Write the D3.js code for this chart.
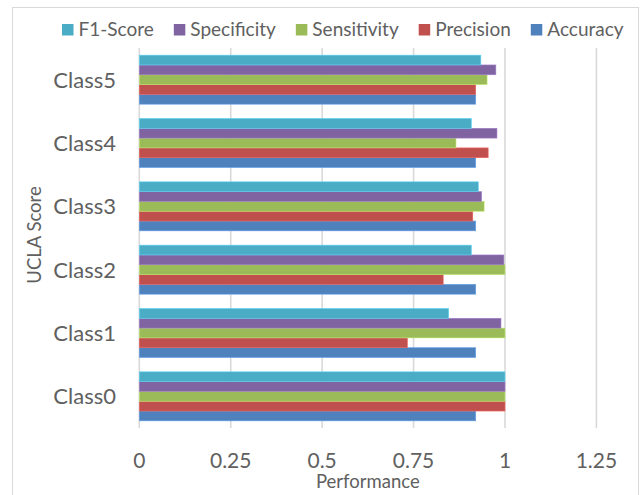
<!DOCTYPE html>
<html>
<head>
<meta charset="utf-8">
<script src="https://cdn.jsdelivr.net/npm/d3@7/dist/d3.min.js"></script>
<style>
  html, body { margin: 0; padding: 0; background: #fff; }
  svg { display: block; }
  text { font-family: Lato, "Open Sans", sans-serif; fill: #606060; }
</style>
</head>
<body>
<svg id="chart" width="641" height="495"></svg>
<script>
// Per-class performance metrics
const categories = ["Class0", "Class1", "Class2", "Class3", "Class4", "Class5"];
const accuracy    = [0.92, 0.92, 0.92, 0.92, 0.92, 0.92];
const precision   = [1.00, 0.733, 0.831, 0.912, 0.954, 0.920];
const sensitivity = [1.00, 1.00, 1.00, 0.943, 0.866, 0.951];
const specificity = [1.00, 0.989, 0.997, 0.936, 0.978, 0.975];
const f1Score     = [1.00, 0.846, 0.908, 0.927, 0.908, 0.934];
const xTicks = [0, 0.25, 0.5, 0.75, 1, 1.25];
const xTickLabels = ["0", "0.25", "0.5", "0.75", "1", "1.25"];

// Series listed bottom-to-top inside each group
const series = [
  { name: "Accuracy",    values: accuracy,    color: "#4F81BD" },
  { name: "Precision",   values: precision,   color: "#C0504D" },
  { name: "Sensitivity", values: sensitivity, color: "#9BBB59" },
  { name: "Specificity", values: specificity, color: "#8064A2" },
  { name: "F1-Score",    values: f1Score,     color: "#4BACC6" }
];

const svg = d3.select("#chart");

// Chart frame
svg.append("rect")
  .attr("x", 12.5).attr("y", 7.5)
  .attr("width", 626).attr("height", 500)
  .attr("fill", "#fff").attr("stroke", "#d9d9d9").attr("stroke-width", 1);

const plot = { left: 139.3, right: 596.4, top: 48, bottom: 428 };

const x = d3.scaleLinear().domain([0, 1.25]).range([plot.left, plot.right]);
const y = d3.scaleBand()
  .domain(categories.slice().reverse())
  .range([plot.top, plot.bottom])
  .paddingInner(0.226).paddingOuter(0.113);
const inner = d3.scaleBand()
  .domain(series.map(s => s.name).reverse())
  .range([0, y.bandwidth()]);

// Vertical gridlines
svg.append("g")
  .selectAll("line")
  .data(xTicks)
  .join("line")
  .attr("x1", d => x(d)).attr("x2", d => x(d))
  .attr("y1", plot.top).attr("y2", plot.bottom)
  .attr("stroke", "#d9d9d9").attr("stroke-width", 1.6);

// Bars
const groups = svg.append("g")
  .selectAll("g")
  .data(categories)
  .join("g")
  .attr("transform", d => `translate(0,${y(d)})`);

groups.selectAll("rect")
  .data((c, i) => series.map(s => ({ name: s.name, color: s.color, v: s.values[i] })))
  .join("rect")
  .attr("x", x(0))
  .attr("y", d => inner(d.name))
  .attr("width", d => x(d.v) - x(0))
  .attr("height", inner.bandwidth())
  .attr("fill", d => d.color)
  .attr("stroke", d => d3.color(d.color).brighter(0.6))
  .attr("stroke-width", 0.6);

// Category axis labels
svg.append("g")
  .selectAll("text")
  .data(categories)
  .join("text")
  .attr("x", 116)
  .attr("y", d => y(d) + y.bandwidth() / 2)
  .attr("dy", "0.36em")
  .attr("text-anchor", "end")
  .attr("font-size", 22)
  .text(d => d);

// Value axis labels
svg.append("g")
  .selectAll("text")
  .data(xTicks)
  .join("text")
  .attr("x", d => x(d))
  .attr("y", 467.5)
  .attr("text-anchor", "middle")
  .attr("font-size", 21)
  .text((d, i) => xTickLabels[i]);

// Axis titles
svg.append("text")
  .attr("x", (plot.left + plot.right) / 2)
  .attr("y", 488)
  .attr("text-anchor", "middle")
  .attr("font-size", 18.5)
  .text("Performance");

svg.append("text")
  .attr("transform", `translate(41,235) rotate(-90)`)
  .attr("text-anchor", "middle")
  .attr("font-size", 18.5)
  .text("UCLA Score");

// Legend
const legend = svg.append("g");
let lx = 62;
series.slice().reverse().forEach(s => {
  legend.append("rect")
    .attr("x", lx).attr("y", 24)
    .attr("width", 11.5).attr("height", 11.5)
    .attr("fill", s.color);
  const t = legend.append("text")
    .attr("x", lx + 16.5).attr("y", 36)
    .attr("font-size", 19)
    .text(s.name);
  lx += 16.5 + t.node().getComputedTextLength() + 20;
});
</script>
</body>
</html>
